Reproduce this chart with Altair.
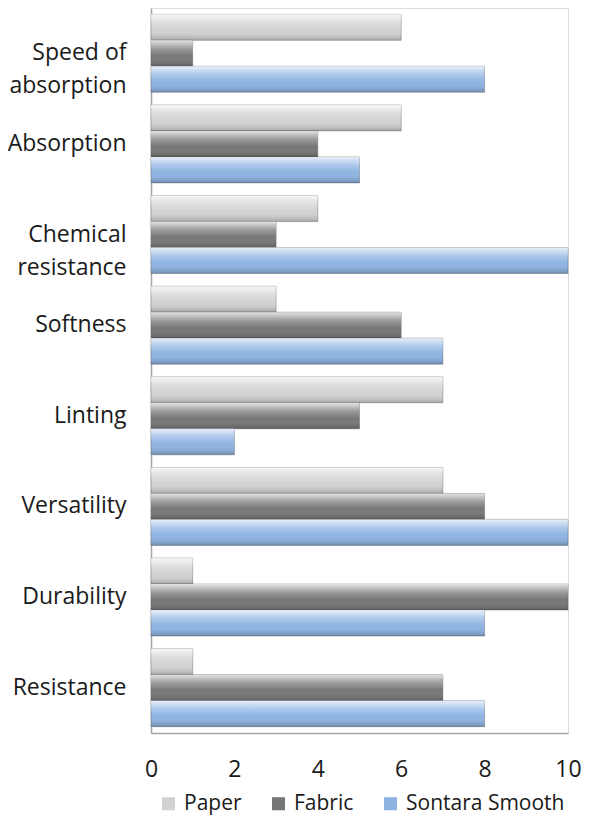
import altair as alt
import pandas as pd

categories = ["Speed of absorption", "Absorption", "Chemical resistance", "Softness",
              "Linting", "Versatility", "Durability", "Resistance"]
series = ["Paper", "Fabric", "Sontara Smooth"]
paper = [6, 6, 4, 3, 7, 7, 1, 1]
fabric = [1, 4, 3, 6, 5, 8, 10, 7]
sontara = [8, 5, 10, 7, 2, 10, 8, 8]
colors = ["#d2d2d2", "#767676", "#8db3e2"]
x_ticks = [0, 2, 4, 6, 8, 10]

rows = []
for i, c in enumerate(categories):
    for s, vals in zip(series, [paper, fabric, sontara]):
        rows.append({"category": c, "series": s, "value": vals[i]})
df = pd.DataFrame(rows)

label_expr = ("datum.label == 'Speed of absorption' ? ['Speed of', 'absorption'] : "
              "datum.label == 'Chemical resistance' ? ['Chemical', 'resistance'] : datum.label")

y_enc = alt.Y("category:N", sort=categories, title=None,
              scale=alt.Scale(paddingInner=0.14, paddingOuter=0.07),
              axis=alt.Axis(ticks=False, labelAlign="right", labelPadding=25,
                            labelFontSize=23, labelFont="Open Sans", labelColor="#1a1a1a",
                            labelLineHeight=33, labelExpr=label_expr, domainColor="#a6a6a6",
                            domainWidth=1.5))
x_enc = alt.X("value:Q", title=None, scale=alt.Scale(domain=[0, 10], nice=False),
              axis=alt.Axis(values=x_ticks, grid=False, ticks=False, labelPadding=25,
                            labelFlush=False,
                            labelFontSize=23, labelFont="Open Sans", labelColor="#1a1a1a",
                            domainColor="#a6a6a6", domainWidth=1.5))
yoff = alt.YOffset("series:N", sort=series)

base = alt.Chart(df)

bars = base.mark_bar(stroke="#5a5a5a", strokeWidth=0.4).encode(
    x=x_enc, y=y_enc, yOffset=yoff,
    color=alt.Color("series:N", sort=series,
                    scale=alt.Scale(domain=series, range=colors),
                    legend=alt.Legend(title=None, orient="none", direction="horizontal",
                                      legendX=7, legendY=785, symbolType="square",
                                      symbolSize=170, symbolStrokeWidth=0,
                                      labelFontSize=21, labelFont="Open Sans",
                                      labelColor="#1a1a1a", columnPadding=26,
                                      labelOffset=5, labelLimit=300)),
)

sheen = base.mark_bar(
    color=alt.Gradient(
        gradient="linear", x1=0, x2=0, y1=0, y2=1,
        stops=[alt.GradientStop(color="rgba(255,255,255,0.8)", offset=0),
               alt.GradientStop(color="rgba(255,255,255,0.3)", offset=0.3),
               alt.GradientStop(color="rgba(255,255,255,0)", offset=0.6),
               alt.GradientStop(color="rgba(0,0,0,0.22)", offset=1)])
).encode(x="value:Q", y=alt.Y("category:N", sort=categories), yOffset=yoff)

chart = alt.layer(bars, sheen).properties(
    width=417, height=725,
    autosize=alt.AutoSizeParams(type="none"),
    padding={"left": 143, "top": 0, "right": 14, "bottom": 83},
).configure_view(stroke=None).configure(background="white")

chart.save("out.html", embed_options={"renderer": "svg", "actions": False})
